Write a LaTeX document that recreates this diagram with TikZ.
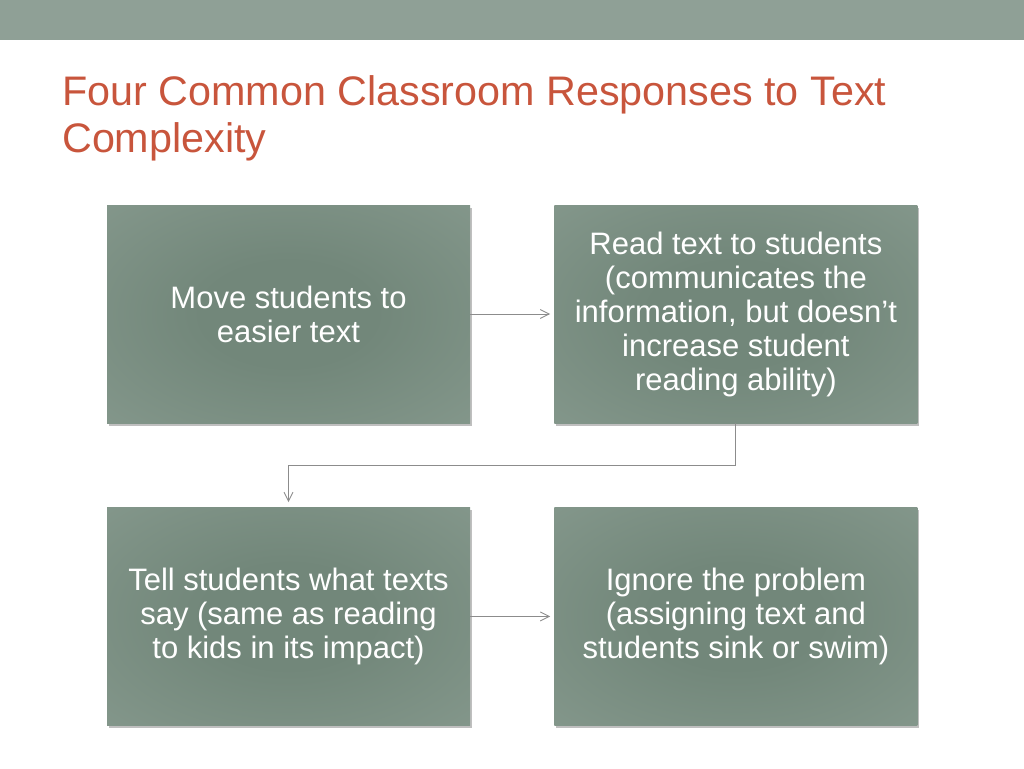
\documentclass[tikz,border=0pt]{standalone}
\usepackage{fontspec}
\setmainfont{Liberation Sans}
\usetikzlibrary{arrows.meta, positioning, shadows}

\definecolor{barcolor}{HTML}{8FA096}
\definecolor{titlecolor}{HTML}{C8553C}
\definecolor{boxmid}{HTML}{72877A}
\definecolor{boxedge}{HTML}{91A398}
\definecolor{linkgray}{HTML}{8C8C8C}
\pgfdeclareradialshading{boxglow}{\pgfpoint{0bp}{0bp}}{color(0bp)=(boxmid); color(12bp)=(boxmid); color(55bp)=(boxedge)}

\tikzset{
    response/.style={rectangle, shading=boxglow, minimum width=363pt, minimum height=218pt, inner sep=0pt, align=center, text=white, font=\fontsize{31}{34}\selectfont, drop shadow={shadow xshift=2pt, shadow yshift=-3pt, opacity=0.5}},
    link/.style={-{Straight Barb[length=9pt, width=9pt]}, color=linkgray, line width=0.9pt}
}

\begin{document}
\begin{tikzpicture}[x=1pt, y=-1pt]
    \useasboundingbox (0,0) rectangle (1024,768);
    \fill [barcolor] (0,0) rectangle (1024,40.5);
    \node [anchor=base west, inner sep=0pt, align=left, text=titlecolor, font=\fontsize{41.3}{47}\selectfont] (title) at (62,152) {Four Common Classroom Responses to Text\\Complexity};
    \node [response] (easier) at (288.5,314) {Move students to\\easier text};
    \node [response, right=84pt of easier] (readaloud) {Read text to students\\(communicates the\\information, but doesn’t\\increase student\\reading ability)};
    \node [response, below=84pt of easier] (tell) {Tell students what texts\\say (same as reading\\to kids in its impact)};
    \node [response, right=84pt of tell] (ignore) {Ignore the problem\\(assigning text and\\students sink or swim)};
    \draw [link, shorten >=4pt] (easier) -- (readaloud);
    \draw [link, shorten >=5pt] (readaloud.south) -- ++(0,42) -| (tell.north);
    \draw [link, shorten >=4pt] (tell) -- (ignore);
\end{tikzpicture}
\end{document}
